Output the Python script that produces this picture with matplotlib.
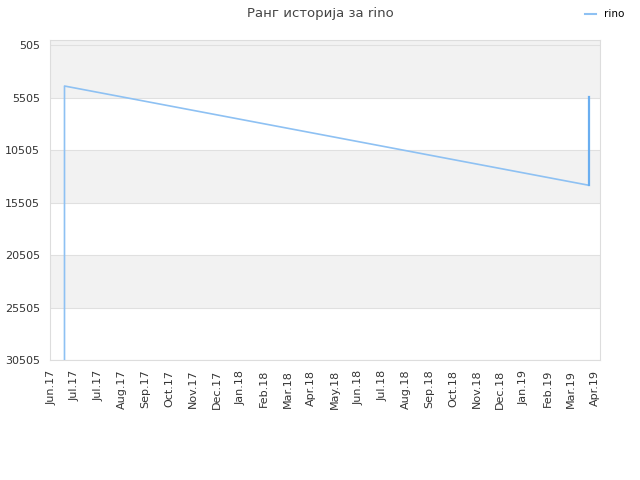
import datetime as dt

import matplotlib
matplotlib.use("Agg")
import matplotlib.pyplot as plt
import matplotlib.dates as mdates
from matplotlib.lines import Line2D

# rank history for "rino"
dates = ["2017-06-18", "2017-06-18", "2019-04-14", "2019-04-14"]
ranks = [30505, 4400, 13850, 5400]

yticks = [505, 5505, 10505, 15505, 20505, 25505, 30505]
tick_labels = ["Jun.17", "Jul.17", "Jul.17", "Aug.17", "Sep.17", "Oct.17", "Nov.17",
               "Dec.17", "Jan.18", "Feb.18", "Mar.18", "Apr.18", "May.18", "Jun.18",
               "Jul.18", "Aug.18", "Sep.18", "Oct.18", "Nov.18", "Dec.18", "Jan.19",
               "Feb.19", "Mar.19", "Apr.19"]

start = dt.datetime(2017, 6, 1)
step_days = 30

x = [dt.datetime.strptime(d, "%Y-%m-%d") for d in dates]

fig = plt.figure(figsize=(6.4, 4.8), dpi=100)
ax = fig.add_axes([0.078, 0.25, 0.86, 0.667])

# alternating bands
for i in range(len(yticks) - 1):
    if i % 2 == 0:
        lo = 0 if i == 0 else yticks[i]
        ax.axhspan(lo, yticks[i + 1], color="#f2f2f2", zorder=0, lw=0)
for y in yticks:
    ax.axhline(y, color="#e0e0e0", lw=0.8, zorder=1)

ax.plot(x[:-1], ranks[:-1], color="#8ec1f3", lw=1.2, zorder=3)
ax.plot(x[-2:], ranks[-2:], color="#6aaef0", lw=1.6, zorder=3)

ax.set_ylim(30505, 0)
ax.set_yticks(yticks)
ax.set_yticklabels([str(v) for v in yticks])

tick_pos = [start + dt.timedelta(days=step_days * i) for i in range(len(tick_labels))]
ax.set_xticks([mdates.date2num(t) for t in tick_pos])
ax.set_xticklabels(tick_labels, rotation=90)
ax.set_xlim(mdates.date2num(start - dt.timedelta(days=1.5)),
            mdates.date2num(start + dt.timedelta(days=697)))

ax.tick_params(length=0, labelsize=8, labelcolor="#333333", pad=7)
for s in ax.spines.values():
    s.set_color("#dddddd")

fig.suptitle("Ранг историја за rino", x=0.5, y=0.985, fontsize=9.5, color="#444444")
handle = Line2D([], [], color="#8ec1f3", lw=1.5)
fig.legend([handle], ["rino"], loc="upper right", bbox_to_anchor=(0.99, 1.0),
           frameon=False, fontsize=7.5, handlelength=1.0, handletextpad=0.8)

fig.savefig("out.png", dpi=100)
